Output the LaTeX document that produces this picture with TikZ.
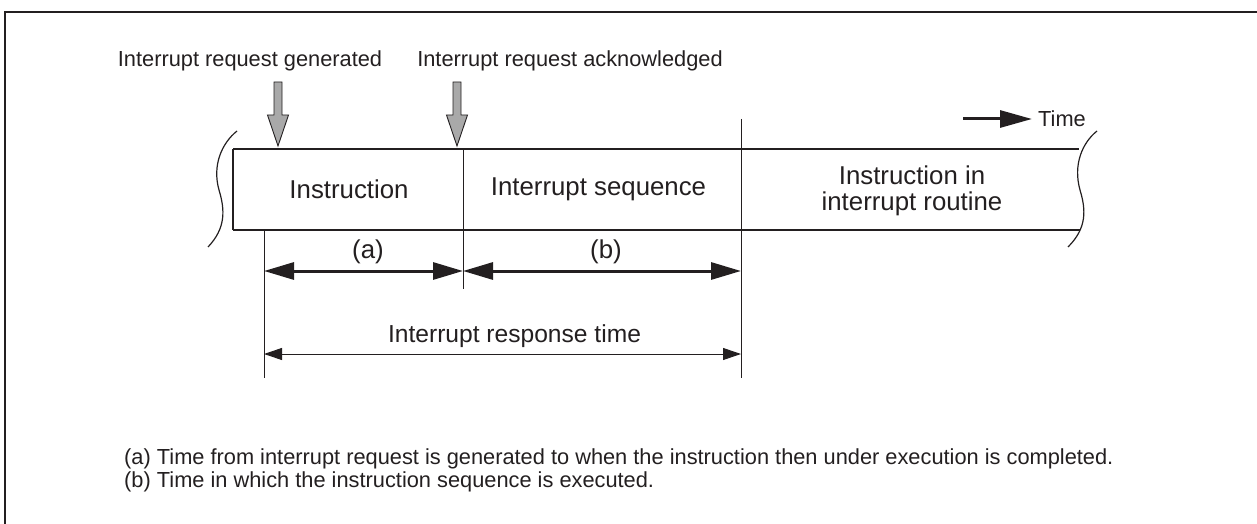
\documentclass[tikz,border=0pt]{standalone}
\usepackage{fontspec}
\setmainfont{Liberation Sans}
\usetikzlibrary{arrows.meta}
\definecolor{ink}{HTML}{231F20}
\definecolor{arrgray}{HTML}{A9A9A9}
\tikzset{
  lbl/.style={inner sep=0pt, text=ink, font=\fontsize{21.8}{26}\selectfont},
  big/.style={inner sep=0pt, text=ink, font=\fontsize{25.8}{29}\selectfont, align=center},
  thickdim/.style={draw=ink, line width=3pt, {Triangle[length=30pt,width=17pt]}-{Triangle[length=30pt,width=17pt]}},
  thindim/.style={draw=ink, line width=1pt, {Triangle[length=18pt,width=12pt]}-{Triangle[length=18pt,width=12pt]}},
  barline/.style={draw=ink, line width=1.8pt},
  guide/.style={draw=ink, line width=1pt},
  grayarrow/.style={draw=ink, line width=0.9pt, fill=arrgray, line join=miter},
}
\begin{document}
\begin{tikzpicture}[x=1pt,y=-1pt]
\useasboundingbox (0,0) rectangle (1257,524);
% outer frame (only top and left edges visible)
\draw[ink, line width=2pt] (5,530) -- (5,12) -- (1265,12);

% header labels
\node[lbl] (gen) at (250,61) {Interrupt request generated};
\node[lbl] (ack) at (570,61) {Interrupt request acknowledged};

% gray arrows
\draw[grayarrow] (274,82) -- (282,82) -- (282,115) -- (288.5,115) -- (278,146) -- (267.5,115) -- (274,115) -- cycle;
\draw[grayarrow] (453,82) -- (461,82) -- (461,115) -- (467.5,115) -- (457,146) -- (446.5,115) -- (453,115) -- cycle;

% time arrow
\coordinate (t0) at (963,119);
\coordinate (t1) at (1032,119);
\draw[ink, line width=3pt, -{Triangle[length=32pt,width=17pt]}] (t0) -- (t1);
\node[lbl, anchor=west] (time) at (1038,119) {Time};

% main bar
\coordinate (tl) at (233,149);
\coordinate (bl) at (233,230);
\coordinate (tr) at (1079,149);
\coordinate (br) at (1080,230);
\draw[barline] (tl) -- (tr);
\draw[barline] (bl) -- (br);
\draw[barline] (tl) -- (bl);

% wavy break marks
\draw[ink, line width=1.2pt] (237,131) .. controls (222,143) and (212,165) .. (219,190) .. controls (225,210) and (226,228) .. (208,247);
\draw[ink, line width=1.2pt] (1097,131) .. controls (1082,143) and (1073,165) .. (1080,190) .. controls (1086,210) and (1087,228) .. (1068,247);

% dividers and guide lines
\coordinate (d1t) at (463,149);
\coordinate (d1b) at (463,289);
\coordinate (d2t) at (741,119);
\coordinate (d2b) at (741,378);
\coordinate (g1t) at (264,230);
\coordinate (g1b) at (264,378);
\draw[guide] (d1t) -- (d1b);
\draw[guide] (d2t) -- (d2b);
\draw[guide] (g1t) -- (g1b);

% box labels
\node[big] (instr) at (349,189) {Instruction};
\node[big] (seq) at (598.5,189) {Interrupt sequence};
\node[big] (routine) at (912,191) {Instruction in\\[-3pt]interrupt routine};

% dimension arrows
\coordinate (a0) at (264,271);
\coordinate (a1) at (463,271);
\coordinate (b1) at (741,271);
\draw[thickdim] (a0) -- (a1);
\draw[thickdim] (a1) -- (b1);
\node[big] (la) at (368,252) {(a)};
\node[big] (lb) at (606,252) {(b)};

\coordinate (r0) at (264,354);
\coordinate (r1) at (741,354);
\draw[thindim] (r0) -- (r1);
\node[big, font=\fontsize{24.6}{28}\selectfont] (resp) at (514.5,336) {Interrupt response time};

% footnotes
\node[lbl, anchor=west] (fa) at (124,459) {(a) Time from interrupt request is generated to when the instruction then under execution is completed.};
\node[lbl, anchor=west] (fb) at (124,482) {(b) Time in which the instruction sequence is executed.};
\end{tikzpicture}
\end{document}
